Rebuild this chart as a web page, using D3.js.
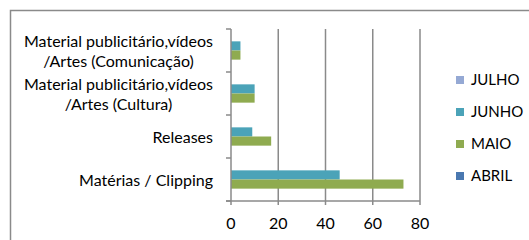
<!DOCTYPE html>
<html><head><meta charset="utf-8">
<script src="https://cdn.jsdelivr.net/npm/d3@7"></script>
<style>body{margin:0;background:#fff}svg{display:block}text{font-family:Lato,"Open Sans",sans-serif;fill:#000}</style>
</head><body><svg id="c" width="529" height="240"></svg>
<script>
const categories = [
  ["Material publicitário,vídeos", "/Artes (Comunicação)"],
  ["Material publicitário,vídeos", "/Artes (Cultura)"],
  ["Releases"],
  ["Matérias / Clipping"]
];
const seriesNames = ["JULHO", "JUNHO", "MAIO", "ABRIL"];
const julho = [0, 0, 0, 0];
const junho = [4, 10, 9, 46];
const maio = [4, 10, 17, 73];
const abril = [0, 0, 0, 0];
const xTicks = [0, 20, 40, 60, 80];
const colors = ["#95A9D4", "#4BA3B8", "#8FAB50", "#4A78B0"];

const seriesVals = [julho, junho, maio, abril];
const svg = d3.select("#c");
const grey = "#8a8a8a";
const fs = 16;
svg.append("path").attr("d", "M10.5,250 V10.5 H540").attr("fill", "none").attr("stroke", grey).attr("stroke-width", 1.5);

const x = d3.scaleLinear().domain([0, 80]).range([231, 420]);
const y = d3.scaleBand().domain(d3.range(categories.length)).range([29, 201]);
const inner = d3.scaleBand().domain(d3.range(seriesNames.length)).range([0, y.bandwidth()]).paddingOuter(0.35);

svg.append("g").selectAll("line").data(xTicks.slice(1)).join("line")
  .attr("x1", d => x(d)).attr("x2", d => x(d)).attr("y1", 29).attr("y2", 205)
  .attr("stroke", grey).attr("stroke-width", 1.5);

seriesVals.forEach((vals, si) => {
  svg.append("g").selectAll("rect").data(vals).join("rect")
    .attr("x", x(0)).attr("width", d => x(d) - x(0))
    .attr("y", (d, i) => y(i) + inner(si)).attr("height", inner.bandwidth())
    .attr("fill", colors[si]);
});

const yAxis = svg.append("g");
yAxis.append("line").attr("x1", x(0)).attr("x2", x(0)).attr("y1", 29).attr("y2", 205).attr("stroke", grey).attr("stroke-width", 1.5);
yAxis.selectAll("line.t").data(d3.range(categories.length + 1)).join("line").attr("class", "t")
  .attr("x1", 226).attr("x2", x(0)).attr("y1", d => d < categories.length ? y(d) : 201).attr("y2", d => d < categories.length ? y(d) : 201)
  .attr("stroke", grey).attr("stroke-width", 1.5);
svg.append("line").attr("x1", 226).attr("x2", x(80)).attr("y1", 201).attr("y2", 201).attr("stroke", grey).attr("stroke-width", 1.5);

const labelRight = 213;
categories.forEach((lines, i) => {
  const cy = y(i) + y.bandwidth() / 2 + 2.5;
  const lh = 20;
  const t = svg.append("text").attr("text-anchor", "middle").attr("font-size", fs);
  const spans = lines.map((ln, k) => t.append("tspan")
      .attr("y", cy + (k - (lines.length - 1) / 2) * lh)
      .attr("dominant-baseline", "middle")
      .text(ln));
  const maxW = d3.max(spans, s => s.node().getComputedTextLength());
  spans.forEach(s => s.attr("x", labelRight - maxW / 2));
});

svg.append("g").selectAll("text").data(xTicks).join("text")
  .attr("x", d => x(d)).attr("y", 225).attr("dominant-baseline", "middle")
  .attr("text-anchor", "middle").attr("font-size", fs).text(d => d);

const lg = svg.append("g");
seriesNames.forEach((n, i) => {
  const ly = 80 + i * 32;
  lg.append("rect").attr("x", 456).attr("y", ly - 4).attr("width", 8).attr("height", 8).attr("fill", colors[i]);
  lg.append("text").attr("x", 471).attr("y", ly + 1).attr("dominant-baseline", "middle").attr("font-size", 15).text(n);
});
</script></body></html>
